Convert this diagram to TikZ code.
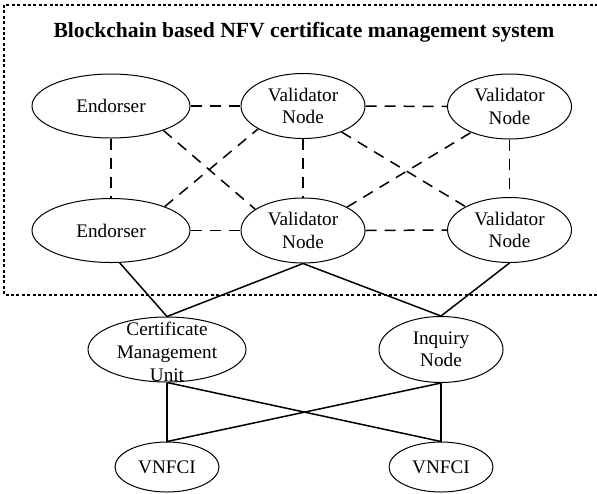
\documentclass[tikz,border=0pt]{standalone}
\usepackage{fontspec}
\setmainfont{Liberation Serif}
\usetikzlibrary{shapes.geometric}
\begin{document}
\begin{tikzpicture}[x=0.5pt,y=-0.5pt,
  ell/.style={ellipse,draw,line width=0.5pt,inner sep=0pt,align=center,font=\fontsize{9.6}{11.2}\selectfont},
  endo/.style={ell,minimum width=79pt,minimum height=32pt},
  vali/.style={ell,minimum width=62pt,minimum height=32.5pt},
  vnf/.style={ell,minimum width=52pt,minimum height=25pt},
  txt/.style={inner sep=0pt,align=center,font=\fontsize{9.6}{11.4}\selectfont},
  dl/.style={line width=0.75pt,dash pattern=on 5.5pt off 4pt},
  sl/.style={line width=0.75pt},
  framebox/.style={line width=0.65pt,dash pattern=on 1.5pt off 1.2pt}]
\useasboundingbox (0,0) rectangle (597,493);
\draw[framebox] (4,5) rectangle (605,295);
\node[inner sep=0pt,font=\bfseries\fontsize{10.8}{12}\selectfont] (title) at (304,32) {Blockchain based NFV certificate management system};
% upper nodes
\node[endo] (e1) at (111,106) {Endorser};
\node[endo] (e2) at (111,230.5) {Endorser};
\node[vali] (v1) at (303,106) {Validator\\Node};
\node[vali] (v2) at (303,230.5) {Validator\\Node};
\node[vali] (r1) at (509.5,106.5) {Validator\\Node};
\node[vali] (r2) at (509.5,230) {Validator\\Node};
% lower nodes
\node[ell,minimum width=79pt,minimum height=32.5pt] (cmu) at (167,349.5) {};
\node[txt] (cmut) at (167,352) {Certificate\\Management\\Unit};
\node[ell,minimum width=62pt,minimum height=33pt] (inq) at (441,349.5) {Inquiry\\Node};
\node[vnf] (n1) at (167,467) {VNFCI};
\node[vnf] (n2) at (441,467) {VNFCI};
% dashed mesh
\draw[dl] (e1.east) -- (v1.west);
\draw[dl] (v1.east) -- (r1.west);
\draw[dl] (e2.east) -- (v2.west);
\draw[dl] (v2.east) -- (r2.west);
\draw[dl] (e1.south) -- (e2.north);
\draw[dl] (v1.south) -- (v2.north);
\draw[dl] (r1.south) -- (r2.north);
\draw[dl] (e1.-25) -- (v2.156);
\draw[dl] (e2.24) -- (v1.-153);
\draw[dl] (v1.-34) -- (r2.152);
\draw[dl] (v2.28) -- (r1.-146);
% solid links
\draw[sl] (e2.-75) -- (cmu.north);
\draw[sl] (v2.south) -- (cmu.north);
\draw[sl] (v2.south) -- (inq.north);
\draw[sl] (r2.south) -- (inq.north);
\draw[sl] (cmu.south) -- (n1.north);
\draw[sl] (cmu.south) -- (n2.north);
\draw[sl] (inq.south) -- (n1.north);
\draw[sl] (inq.south) -- (n2.north);
\end{tikzpicture}
\end{document}
